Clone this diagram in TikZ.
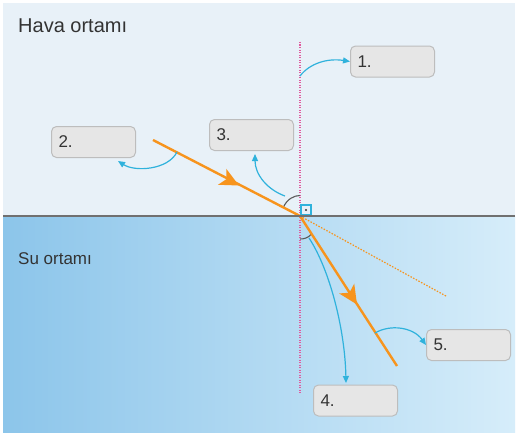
\documentclass[tikz,border=0pt]{standalone}
\usepackage{fontspec}
\setmainfont{Liberation Sans}
\usetikzlibrary{arrows.meta}
\definecolor{airbg}{HTML}{E8F1F8}
\definecolor{waterL}{HTML}{8CC5EA}
\definecolor{waterR}{HTML}{D6EDFA}
\definecolor{rayc}{HTML}{F7941D}
\definecolor{cyanc}{HTML}{2FB2DC}
\definecolor{normc}{HTML}{E05A9E}
\definecolor{boxfill}{HTML}{E6E6E6}
\definecolor{boxline}{HTML}{BDBDBD}
\definecolor{txt}{HTML}{333333}
\definecolor{surf}{HTML}{707070}
\definecolor{arcc}{HTML}{5A5A5A}
\tikzset{
  lbox/.style={draw=boxline, line width=1pt, fill=boxfill, rounded corners=5pt,
    minimum width=84pt, minimum height=31pt, text width=70pt, align=left,
    inner xsep=7pt, inner ysep=0pt, font=\fontsize{17}{19}\selectfont, text=txt},
  lbl/.style={font=\fontsize{17}{19}\selectfont, text=txt, inner sep=0pt, anchor=base west},
  pointer/.style={draw=cyanc, line width=1.2pt, -{Triangle[length=7pt,width=6pt]}},
  ray/.style={draw=rayc, line width=2.4pt},
  rayhead/.style={fill=rayc},
  anglearc/.style={draw=arcc, line width=1.1pt}
}
\begin{document}
\begin{tikzpicture}[x=1pt,y=-1pt]
\useasboundingbox (0,0) rectangle (518,436);
\fill[white] (0,0) rectangle (518,436);
% media
\fill[airbg] (3,3) rectangle (515,216);
\shade[left color=waterL, right color=waterR] (3,216) rectangle (515,432);
% labels of media
\node[lbl, font=\fontsize{20}{22}\selectfont] (air) at (18,33) {Hava ortamı};
\node[lbl] (water) at (18,264) {Su ortamı};
% key points
\coordinate (O) at (300,216);
\coordinate (ntop) at (300,42);
\coordinate (nbot) at (300,393);
\coordinate (rin) at (153,140);
\coordinate (rout) at (397,366);
\coordinate (ext) at (446,296);
\coordinate (tipA) at (239,185.5);
\coordinate (tipB) at (357,304.5);
% normal
\draw[normc, line width=1.3pt, dash pattern=on 1.2pt off 1.3pt] (ntop) -- (nbot);
% dotted extension
\draw[rayc, line width=1.2pt, dash pattern=on 1.5pt off 1.5pt] (O) -- (ext);
% right angle mark
\draw[cyanc, line width=1.2pt] (301,205) rectangle (311,215);
\fill[txt] (306,210) circle (1.1pt);
% angle arcs
\draw[anglearc] (283.3,207.4) .. controls (287,199) and (294,195.5) .. (300,195.5);
\draw[anglearc] (300,239) .. controls (304,239) and (308,238) .. (311.5,234);
% rays
\draw[ray] (rin) -- (O);
\draw[ray] (O) -- (rout);
\fill[rayhead, shift={(tipA)}, rotate=-27.3] (0,0) -- (-19,9) -- (-14,0) -- (-19,-9) -- cycle;
\fill[rayhead, shift={(tipB)}, rotate=-57.1] (0,0) -- (-19,9) -- (-14,0) -- (-19,-9) -- cycle;
% surface
\draw[surf, line width=2pt] (3,216) -- (515,216);
% boxes
\node[lbox] (b1) at (392.5,61.5) {1.};
\node[lbox] (b2) at (93.5,142) {2.};
\node[lbox] (b3) at (251.5,135) {3.};
\node[lbox] (b4) at (355.5,400.5) {4.};
\node[lbox] (b5) at (468.5,345) {5.};
% pointer starts
\coordinate (p1) at (300,76);
\coordinate (p2) at (177,152);
\coordinate (p3) at (285,196);
\coordinate (p4) at (309,238);
\coordinate (p5) at (375,333);
% pointers
\draw[pointer] (p1) .. controls (310,63) and (328,58) .. (b1.west);
\draw[pointer] (p2) .. controls (168,170) and (135,172) .. (118,161);
\draw[pointer] (p3) .. controls (268,190) and (255,175) .. (255,154);
\draw[pointer] (p4) .. controls (330,270) and (345,330) .. (346,383);
\draw[pointer] (p5) .. controls (390,324) and (413,327) .. (b5.west);
\end{tikzpicture}
\end{document}
